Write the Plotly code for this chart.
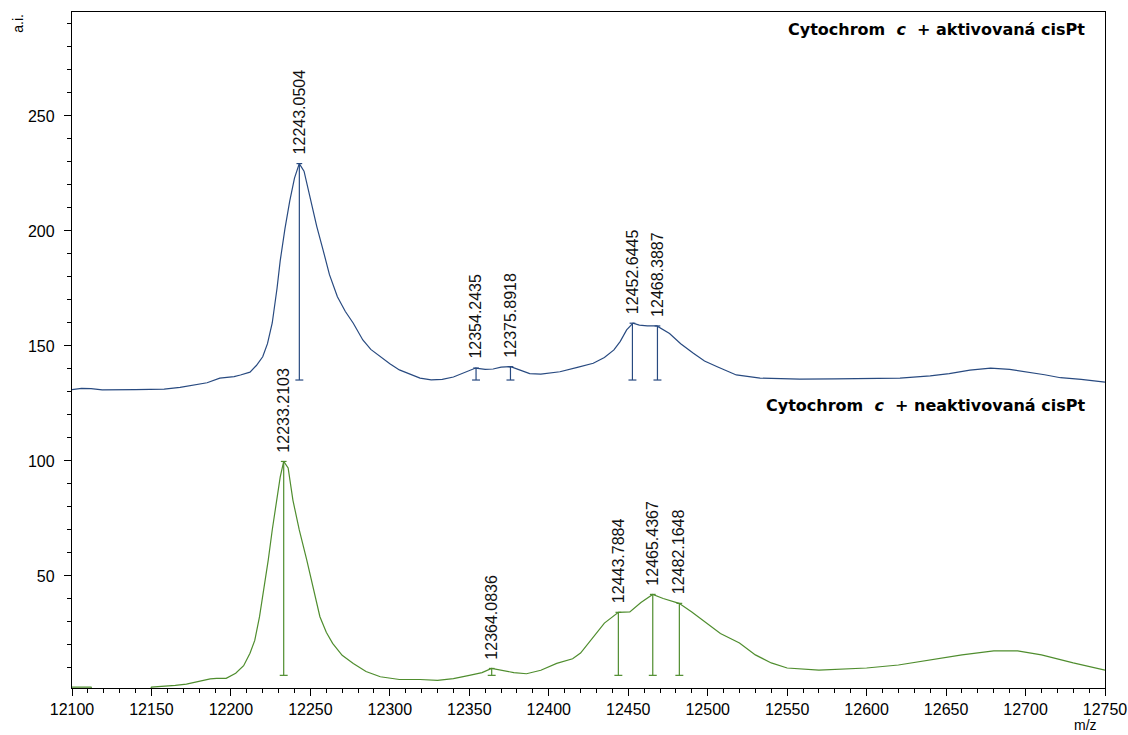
import plotly.graph_objects as go

# ---- data ----
top_mz = [12100, 12106, 12112, 12119, 12140, 12158, 12168, 12176, 12185, 12193, 12202, 12206,
          12212, 12216, 12220, 12223, 12226, 12229, 12231, 12234, 12237, 12240, 12243, 12246,
          12250, 12254, 12258, 12262, 12267, 12272, 12277, 12283, 12288, 12294, 12300, 12306,
          12313, 12319, 12326, 12333, 12340, 12347, 12354, 12360, 12365, 12370, 12376, 12382,
          12388, 12395, 12401, 12407, 12418, 12428, 12435, 12441, 12445, 12449, 12453, 12457,
          12462, 12468, 12476, 12483, 12491, 12498, 12506, 12518, 12533, 12545, 12558, 12580,
          12600, 12621, 12640, 12652, 12665, 12678, 12690, 12700, 12712, 12722, 12735, 12750]
top_int = [131.0, 131.6, 131.5, 130.9, 131.0, 131.2, 132.0, 133.0, 134.0, 136.0, 136.7, 137.4,
           138.6, 141.5, 145.3, 151, 160, 175, 187, 201, 213, 223, 229.3, 226,
           213.5, 202, 191.7, 181, 171.4, 165, 159.9, 152.6, 148.5, 145.3, 142.3, 139.6,
           137.5, 136.0, 135.3, 135.5, 136.5, 138.5, 140.4, 139.8, 140.0, 140.8, 141.0, 139.5,
           138.0, 137.8, 138.2, 138.8, 140.7, 142.5, 145, 148.3, 152, 157, 159.9, 159.1,
           158.7, 158.7, 155.4, 151, 146.8, 143.5, 141, 137.4, 136.0, 135.7, 135.6, 135.7,
           135.8, 136.0, 137, 138, 139.5, 140.4, 139.8, 138.8, 137.5, 136.2, 135.5, 134.3]

bot_mz = [12100, 12112, 12114, 12148, 12150, 12158, 12165, 12172, 12180, 12187, 12191, 12197,
          12203, 12208, 12212, 12215, 12218, 12221, 12223.5, 12226, 12229, 12231, 12233.2, 12236,
          12239, 12243, 12247.7, 12252, 12256, 12260, 12264, 12270, 12277, 12285, 12294, 12306,
          12319, 12330, 12340, 12350, 12358, 12364, 12370, 12378, 12386, 12395, 12405, 12415,
          12420, 12425, 12435, 12443.8, 12451, 12458, 12465.4, 12472, 12482, 12490, 12500, 12508,
          12520, 12530, 12540, 12550, 12570, 12600, 12620, 12640, 12660, 12680, 12695, 12710,
          12730, 12750]
bot_int = [1.7, 1.7, -2, -2, 1.7, 1.9, 2.4, 3, 4.3, 5.3, 5.5, 5.5,
           7.7, 11, 16.4, 22, 32.3, 45, 57, 70, 83, 93, 99.8, 97,
           83, 70, 57, 44, 32.3, 25.5, 20.7, 15.5, 12, 8.5, 6.2, 5.0,
           5.0, 4.6, 5.4, 6.8, 8, 9.8, 9, 8, 7.5, 9, 12, 14,
           16.5, 21, 29.5, 34.2, 34.4, 38.5, 42.0, 40.2, 38.1, 34.3, 29, 25,
           20.9, 15.7, 12.2, 10, 9.1, 10, 11.3, 13.5, 15.7, 17.4, 17.4, 15.7,
           12.2, 9.1]

top_peaks_mz = [12243.0504, 12354.2435, 12375.8918, 12452.6445, 12468.3887]
top_peaks_int = [229.3, 140.4, 141.0, 159.9, 158.7]
top_peaks_lbl = ["12243.0504", "12354.2435", "12375.8918", "12452.6445", "12468.3887"]
top_base = 135.2

bot_peaks_mz = [12233.2103, 12364.0836, 12443.7884, 12465.4367, 12482.1648]
bot_peaks_int = [99.8, 9.8, 34.2, 42.0, 38.1]
bot_peaks_lbl = ["12233.2103", "12364.0836", "12443.7884", "12465.4367", "12482.1648"]
bot_base = 6.8

title_top = "Cytochrom  <i>c</i>  + aktivovaná cisPt"
title_bot = "Cytochrom  <i>c</i>  + neaktivovaná cisPt"

x_ticks = list(range(12100, 12751, 50))
y_ticks = [50, 100, 150, 200, 250]

BLUE = "#284a80"
GREEN = "#4f8d2e"
FONT = "Liberation Sans, Arial, sans-serif"
TFONT = "DejaVu Sans, Liberation Sans, sans-serif"

fig = go.Figure()
fig.add_trace(go.Scatter(x=top_mz, y=top_int, mode="lines",
                         line=dict(color=BLUE, width=1.2), hoverinfo="skip"))
fig.add_trace(go.Scatter(x=bot_mz, y=bot_int, mode="lines",
                         line=dict(color=GREEN, width=1.2), hoverinfo="skip"))


def peak_marks(mzs, ints, base, color):
    xs, ys = [], []
    cw = 2.5
    for m, v in zip(mzs, ints):
        xs += [m, m, None, m - cw, m + cw, None, m - 1.8, m + 1.8, None]
        ys += [v, base, None, base, base, None, v, v, None]
    fig.add_trace(go.Scatter(x=xs, y=ys, mode="lines",
                             line=dict(color=color, width=1.2), hoverinfo="skip"))


peak_marks(top_peaks_mz, top_peaks_int, top_base, BLUE)
peak_marks(bot_peaks_mz, bot_peaks_int, bot_base, GREEN)

annotations = []
for mzs, ints, lbls in ((top_peaks_mz, top_peaks_int, top_peaks_lbl),
                        (bot_peaks_mz, bot_peaks_int, bot_peaks_lbl)):
    for m, v, t in zip(mzs, ints, lbls):
        annotations.append(dict(x=m, y=v, xref="x", yref="y", text=t, textangle=-90,
                                showarrow=False, xanchor="center", yanchor="bottom",
                                yshift=7, font=dict(family=FONT, size=16, color="#111")))

annotations += [
    dict(x=0.9826, y=287.4, xref="paper", yref="y", text="<b>" + title_top + "</b>",
         showarrow=False, xanchor="right", yanchor="middle",
         font=dict(family=TFONT, size=16, color="#000")),
    dict(x=0.9826, y=124.3, xref="paper", yref="y", text="<b>" + title_bot + "</b>",
         showarrow=False, xanchor="right", yanchor="middle",
         font=dict(family=TFONT, size=16, color="#000")),
    dict(x=-0.053, y=1.0, xref="paper", yref="paper", text="a.i.", textangle=-90,
         showarrow=False, xanchor="center", yanchor="top",
         font=dict(family=FONT, size=14, color="#000")),
    dict(x=0.981, y=-0.0695, xref="paper", yref="paper", text="m/z",
         showarrow=False, xanchor="center", yanchor="bottom",
         font=dict(family=FONT, size=14, color="#000")),
]

fig.update_layout(
    width=1128, height=735,
    margin=dict(l=72, r=23, t=12, b=47, autoexpand=False),
    paper_bgcolor="white", plot_bgcolor="white",
    showlegend=False,
    font=dict(family=FONT, size=16, color="#000"),
    annotations=annotations,
    xaxis=dict(range=[12100, 12750], tickvals=x_ticks, tickformat="d", ticks="outside",
               ticklen=7, tickwidth=1, tickcolor="#000", showgrid=False, zeroline=False,
               showline=True, linecolor="#000", linewidth=1.3, mirror=True,
               minor=dict(dtick=10, ticks="outside", ticklen=4, tickcolor="#000",
                          showgrid=False),
               tickfont=dict(family=FONT, size=16, color="#000")),
    yaxis=dict(range=[1.3, 295.2], tickvals=y_ticks, ticks="outside", ticklen=7,
               tickwidth=1, tickcolor="#000", showgrid=False, zeroline=False,
               showline=True, linecolor="#000", linewidth=1.3, mirror=True,
               minor=dict(tickvals=[v for v in range(10, 300, 10) if v % 50], ticks="outside",
                          ticklen=4, tickcolor="#000", showgrid=False),
               ticklabelstandoff=6,
               tickfont=dict(family=FONT, size=16, color="#000")),
)

# remove the default page margin so the figure fills the window exactly
fig.write_html("out.html", config={"displayModeBar": False},
               post_script="document.body.style.margin='0';")
